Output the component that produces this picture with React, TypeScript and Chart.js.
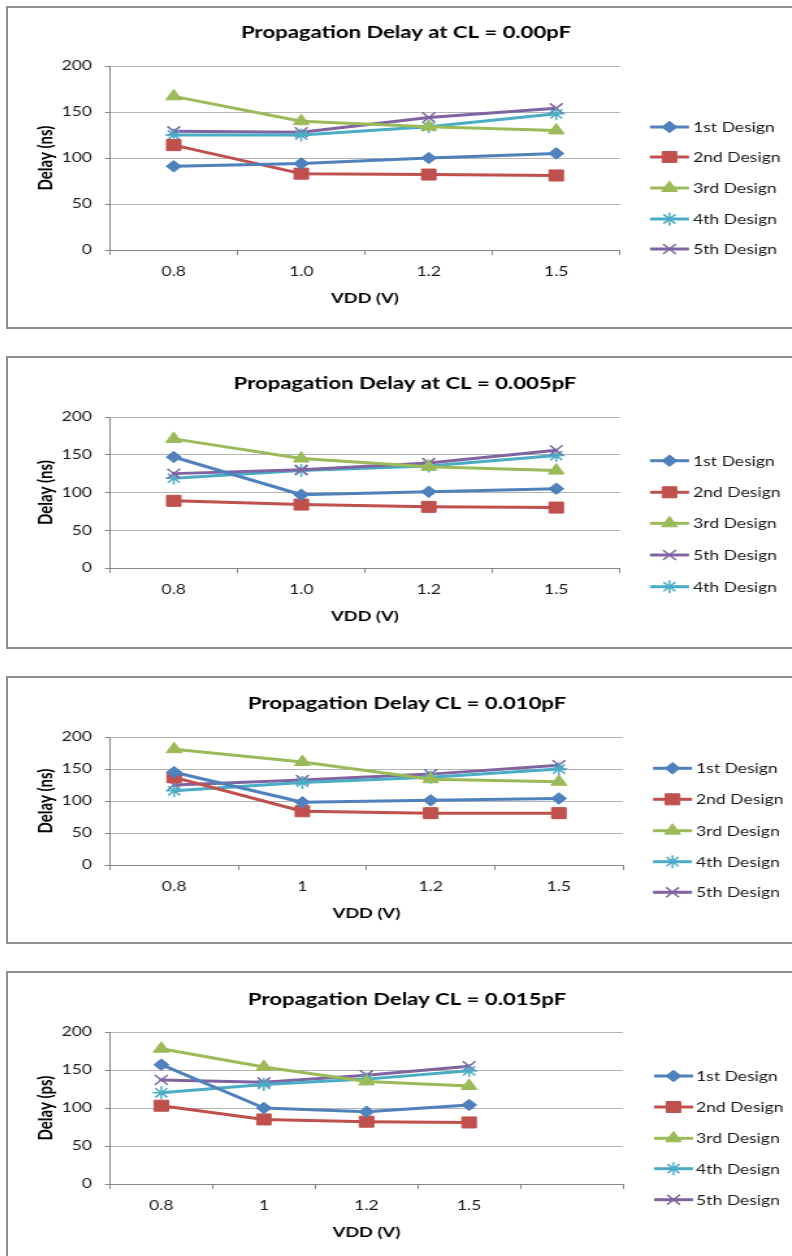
import React, { useEffect, useRef } from 'react';
import { Chart, registerables } from 'chart.js';
import { drawPoint } from 'chart.js/helpers';

Chart.register(...registerables);

// ---- data -------------------------------------------------------------

// supply voltage categories (V)
const vddLabels = ['0.8', '1.0', '1.2', '1.5'];
const vddLabelsPlain = ['0.8', '1', '1.2', '1.5'];
const vddLabelsWithGap = ['0.8', '1', '1.2', '1.5', ''];

// delay axis
const delayMin = 0;
const delayMax = 200;
const delayStep = 50;

// CL = 0.00 pF
const cl000First = [91, 94, 100, 105];
const cl000Second = [114, 83, 82, 81];
const cl000Third = [167, 140, 134, 130];
const cl000Fourth = [125, 125, 134, 148];
const cl000Fifth = [129, 128, 144, 154];

// CL = 0.005 pF
const cl005First = [147, 97, 101, 105];
const cl005Second = [89, 84, 81, 80];
const cl005Third = [171, 145, 134, 129];
const cl005Fifth = [125, 130, 139, 156];
const cl005Fourth = [119, 129, 135, 149];

// CL = 0.010 pF
const cl010First = [145, 98, 101, 104];
const cl010Second = [137, 84, 81, 81];
const cl010Third = [181, 161, 134, 130];
const cl010Fourth = [116, 129, 137, 150];
const cl010Fifth = [125, 133, 142, 156];

// CL = 0.015 pF
const cl015First = [157, 100, 95, 104];
const cl015Second = [103, 85, 82, 81];
const cl015Third = [178, 154, 135, 129];
const cl015Fourth = [120, 131, 138, 149];
const cl015Fifth = [137, 134, 143, 155];

// ---- styling ----------------------------------------------------------

const designStyles: Record<string, { color: string; pointStyle: string; radius: number; pointBorderWidth: number }> = {
  '1st Design': { color: '#4F81BD', pointStyle: 'rectRot', radius: 5.8, pointBorderWidth: 1 },
  '2nd Design': { color: '#C0504D', pointStyle: 'rect', radius: 7.8, pointBorderWidth: 1 },
  '3rd Design': { color: '#9BBB59', pointStyle: 'triangle', radius: 7, pointBorderWidth: 1 },
  '4th Design': { color: '#4BACC6', pointStyle: 'star', radius: 6.5, pointBorderWidth: 1.5 },
  '5th Design': { color: '#8064A2', pointStyle: 'crossRot', radius: 7, pointBorderWidth: 1.5 },
};

const FONT = 'Lato, "Liberation Sans", sans-serif';
const TITLE_SIZE = 17;
const TICK_SIZE = 13.5;
const LEGEND_SIZE = 13.5;
const XTITLE_SIZE = 14;
const YTITLE_SIZE = 15;
const LINE_HEIGHT = 1.2;

// the charts are drawn narrow and widened horizontally on screen
const STRETCH = 1.3;
const CANVAS_LEFT = 8;
const CANVAS_W = 610;
const ix = (px: number) => (px - CANVAS_LEFT) / STRETCH;

type Panel = {
  title: string;
  yTitle: string;
  labels: string[];
  series: [string, number[]][];
  frameTop: number;
  frameHeight: number;
  titleX: number;
  titleY: number;
  plotTop: number;
  plotBottom: number;
  plotRight: number;
  legendRows: number[];
  legendLine: [number, number];
  legendText: number;
};

const panels: Panel[] = [
  {
    title: 'Propagation Delay at CL = 0.00pF',
    yTitle: 'Delay (ns)',
    labels: vddLabels,
    series: [
      ['1st Design', cl000First],
      ['2nd Design', cl000Second],
      ['3rd Design', cl000Third],
      ['4th Design', cl000Fourth],
      ['5th Design', cl000Fifth],
    ],
    frameTop: 6,
    frameHeight: 323,
    titleX: 406,
    titleY: 25,
    plotTop: 58,
    plotBottom: 242,
    plotRight: 620,
    legendRows: [119, 149, 180, 211, 241],
    legendLine: [650, 689],
    legendText: 693,
  },
  {
    title: 'Propagation Delay at CL = 0.005pF',
    yTitle: 'Delay (ns)',
    labels: vddLabels,
    series: [
      ['1st Design', cl005First],
      ['2nd Design', cl005Second],
      ['3rd Design', cl005Third],
      ['5th Design', cl005Fifth],
      ['4th Design', cl005Fourth],
    ],
    frameTop: 356,
    frameHeight: 293,
    titleX: 405,
    titleY: 25.3,
    plotTop: 59,
    plotBottom: 210,
    plotRight: 620,
    legendRows: [102.7, 134.3, 165.3, 197, 228.7],
    legendLine: [650, 689],
    legendText: 693,
  },
  {
    title: 'Propagation Delay CL = 0.010pF',
    yTitle: 'Delay (ns)',
    labels: vddLabelsPlain,
    series: [
      ['1st Design', cl010First],
      ['2nd Design', cl010Second],
      ['3rd Design', cl010Third],
      ['4th Design', cl010Fourth],
      ['5th Design', cl010Fifth],
    ],
    frameTop: 676,
    frameHeight: 268,
    titleX: 407,
    titleY: 25.3,
    plotTop: 59,
    plotBottom: 187,
    plotRight: 623,
    legendRows: [90.3, 121.3, 152.7, 183.7, 214.3],
    legendLine: [653, 692],
    legendText: 696,
  },
  {
    title: 'Propagation Delay CL = 0.015pF',
    yTitle: 'Delay (ps)',
    labels: vddLabelsWithGap,
    series: [
      ['1st Design', cl015First],
      ['2nd Design', cl015Second],
      ['3rd Design', cl015Third],
      ['4th Design', cl015Fourth],
      ['5th Design', cl015Fifth],
    ],
    frameTop: 971,
    frameHeight: 300,
    titleX: 407,
    titleY: 27,
    plotTop: 59,
    plotBottom: 211,
    plotRight: 623,
    legendRows: [103, 134, 165.3, 195.7, 226.7],
    legendLine: [654, 693],
    legendText: 696,
  },
];

const AXIS_COLOR = '#868686';
const GRID_COLOR = '#b3b3b3';

function buildConfig(panel: Panel): any {
  const H = panel.frameHeight - 4;
  const chartLeft = ix(110);
  const chartRight = ix(panel.plotRight);
  const xTitleLH = XTITLE_SIZE * LINE_HEIGHT;
  const yTitleLH = YTITLE_SIZE * LINE_HEIGHT;
  const tickLH = TICK_SIZE * LINE_HEIGHT;
  const yTickLen = 5 / STRETCH;

  const datasets = panel.series.map(([name, values]) => {
    const st = designStyles[name];
    return {
      label: name,
      data: values,
      borderColor: st.color,
      backgroundColor: st.color,
      borderWidth: 3,
      tension: 0,
      borderJoinStyle: 'round',
      borderCapStyle: 'round',
      pointStyle: st.pointStyle,
      pointRadius: st.radius,
      pointHoverRadius: st.radius,
      pointBackgroundColor: st.color,
      pointBorderColor: st.color,
      pointBorderWidth: st.pointBorderWidth,
    };
  });

  // chart heading plus the series key on the right-hand side
  const headingAndKey = {
    id: 'headingAndKey',
    afterDraw(chart: any) {
      const ctx = chart.ctx;
      ctx.save();
      ctx.fillStyle = '#000';
      ctx.font = `bold ${TITLE_SIZE}px ${FONT}`;
      ctx.textAlign = 'center';
      ctx.textBaseline = 'middle';
      ctx.fillText(panel.title, ix(panel.titleX), panel.titleY);
      ctx.restore();

      const x0 = ix(panel.legendLine[0]);
      const x1 = ix(panel.legendLine[1]);
      const tx = ix(panel.legendText);
      chart.data.datasets.forEach((ds: any, i: number) => {
        const y = panel.legendRows[i];
        ctx.save();
        ctx.strokeStyle = ds.borderColor;
        ctx.lineWidth = 3;
        ctx.lineCap = 'butt';
        ctx.beginPath();
        ctx.moveTo(x0, y);
        ctx.lineTo(x1, y);
        ctx.stroke();
        ctx.fillStyle = ds.pointBackgroundColor;
        ctx.strokeStyle = ds.pointBorderColor;
        ctx.lineWidth = ds.pointBorderWidth;
        drawPoint(ctx, { pointStyle: ds.pointStyle, radius: ds.pointRadius, rotation: 0, borderWidth: ds.pointBorderWidth }, (x0 + x1) / 2, y);
        ctx.fillStyle = '#1a1a1a';
        ctx.font = `${LEGEND_SIZE}px ${FONT}`;
        ctx.textAlign = 'left';
        ctx.textBaseline = 'middle';
        ctx.fillText(ds.label, tx, y + 0.5);
        ctx.restore();
      });
    },
  };

  return {
    type: 'line',
    data: { labels: panel.labels, datasets },
    plugins: [headingAndKey],
    options: {
      responsive: false,
      animation: false,
      devicePixelRatio: 1,
      events: [],
      layout: { padding: { left: 0, top: panel.plotTop, bottom: 0, right: CANVAS_W - chartRight } },
      plugins: {
        legend: { display: false },
        tooltip: { enabled: false },
        title: { display: false },
      },
      scales: {
        x: {
          type: 'category',
          offset: true,
          grid: { offset: true, drawOnChartArea: false, drawTicks: true, tickLength: 5, color: AXIS_COLOR, lineWidth: 1 },
          border: { color: AXIS_COLOR, width: 1 },
          ticks: {
            color: '#1a1a1a',
            font: { family: FONT, size: TICK_SIZE, lineHeight: LINE_HEIGHT },
            padding: 22 - 5 - tickLH / 2,
            maxRotation: 0,
            autoSkip: false,
          },
          title: {
            display: true,
            text: 'VDD (V)',
            color: '#000',
            font: { family: FONT, size: XTITLE_SIZE, weight: 'bold', lineHeight: LINE_HEIGHT },
            padding: { top: 0, bottom: H - panel.plotBottom - 48.5 - xTitleLH / 2 },
          },
          afterFit(scale: any) {
            scale.height = H - panel.plotBottom;
          },
        },
        y: {
          min: delayMin,
          max: delayMax,
          ticks: {
            stepSize: delayStep,
            color: '#1a1a1a',
            font: { family: FONT, size: TICK_SIZE, lineHeight: LINE_HEIGHT },
            padding: chartLeft - yTickLen - ix(92),
          },
          grid: {
            color: (c: any) => (c.tick && c.tick.value === 0 ? AXIS_COLOR : GRID_COLOR),
            tickColor: AXIS_COLOR,
            tickLength: yTickLen,
            lineWidth: 1,
          },
          border: { color: AXIS_COLOR, width: 1 },
          title: {
            display: true,
            text: panel.yTitle,
            color: '#000',
            font: { family: FONT, size: YTITLE_SIZE, weight: 'bold', lineHeight: LINE_HEIGHT },
            padding: { top: ix(45.5) - yTitleLH / 2, bottom: 0 },
          },
          afterFit(scale: any) {
            scale.width = chartLeft;
          },
        },
      },
    },
  };
}

function DelayPanel({ panel }: { panel: Panel }) {
  const ref = useRef<HTMLCanvasElement>(null);
  const H = panel.frameHeight - 4;

  useEffect(() => {
    if (!ref.current) return;
    const chart = new Chart(ref.current, buildConfig(panel));
    return () => chart.destroy();
  }, [panel]);

  return (
    <div
      style={{
        position: 'absolute',
        left: CANVAS_LEFT - 2,
        top: panel.frameTop,
        width: 800,
        height: panel.frameHeight,
        border: '2px solid #8d8d8d',
        boxSizing: 'border-box',
        background: '#fff',
      }}
    >
      <canvas
        ref={ref}
        width={CANVAS_W}
        height={H}
        style={{
          position: 'absolute',
          left: 0,
          top: 0,
          width: CANVAS_W,
          height: H,
          transform: `scaleX(${STRETCH})`,
          transformOrigin: '0 0',
        }}
      />
    </div>
  );
}

export default function App() {
  return (
    <div
      style={{
        position: 'absolute',
        left: 0,
        top: 0,
        width: 792,
        height: 1256,
        overflow: 'hidden',
        background: '#fff',
      }}
    >
      {panels.map((p) => (
        <DelayPanel key={p.title} panel={p} />
      ))}
    </div>
  );
}
